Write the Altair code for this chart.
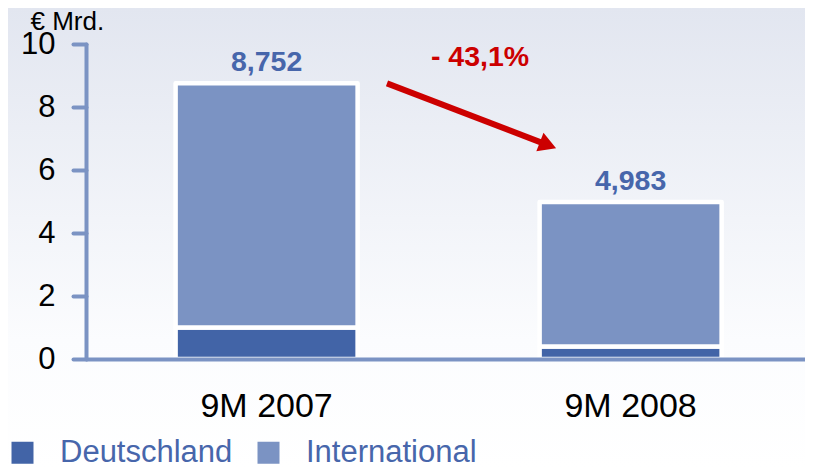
import altair as alt
import pandas as pd

# ---- data ----
categories = ["9M 2007", "9M 2008"]
series = ["Deutschland", "International"]
deutschland = [1.0, 0.4]
international = [7.752, 4.583]
totals = [8.752, 4.983]
total_labels = ["8,752", "4,983"]
change_label = "- 43,1%"
y_ticks = [0, 2, 4, 6, 8, 10]
unit_title = "€ Mrd."

# annotation arrow (y in data units)
arrow_y_start = 8.75
arrow_y_end = 6.79
change_label_y = 9.6

DARK = "#4264a7"
LIGHT = "#7b93c3"
AXIS = "#7b93c3"
LABEL_BLUE = "#4766ab"
RED = "#cc0000"

W, H = 719, 315
PAD = {"left": 78, "top": 36, "right": 0, "bottom": 109}

rows = []
for i, c in enumerate(categories):
    rows.append({"cat": c, "series": series[0], "value": deutschland[i], "order": 0})
    rows.append({"cat": c, "series": series[1], "value": international[i], "order": 1})
bars_df = pd.DataFrame(rows)
totals_df = pd.DataFrame({"cat": categories, "total": totals, "label": total_labels})
one = pd.DataFrame({"k": [0]})

xscale = alt.Scale(domain=categories, paddingInner=0.5, paddingOuter=0.2376, align=0.518)
yscale = alt.Scale(domain=[0, 10], nice=False, zero=True)

bg = alt.Chart(one).mark_rect(
    fill=alt.Gradient(
        gradient="linear", x1=0, y1=0, x2=0, y2=1,
        stops=[alt.GradientStop(color="#e2e6f0", offset=0),
               alt.GradientStop(color="#fbfcfe", offset=0.72),
               alt.GradientStop(color="#ffffff", offset=1)]),
).encode(
    x=alt.value(-PAD["left"]), x2=alt.value(W + PAD["right"]),
    y=alt.value(-PAD["top"]), y2=alt.value(H + PAD["bottom"]),
)

bars = alt.Chart(bars_df).mark_bar(stroke="white", strokeWidth=4.5, strokeJoin="round").encode(
    x=alt.X("cat:N", scale=xscale, sort=categories,
            axis=alt.Axis(title=None, labelAngle=0, ticks=False, labelFontSize=34,
                          labelColor="black", labelPadding=30, domainColor=AXIS,
                          domainWidth=4, zindex=1, labelFont="Liberation Sans")),
    y=alt.Y("value:Q", stack="zero", scale=yscale,
            axis=alt.Axis(title=unit_title, values=y_ticks, grid=False, labelFontSize=31,
                          labelColor="black", labelPadding=18, tickSize=13, tickWidth=4,
                          tickColor=AXIS, tickCap="round", domainColor=AXIS, domainWidth=4,
                          domainCap="round", zindex=1, titleAngle=0, titleX=-56, titleY=-23,
                          titleAlign="left", titleBaseline="middle", titleFontSize=26,
                          titleFontWeight="normal", titleColor="black",
                          labelFont="Liberation Sans", titleFont="Liberation Sans")),
    color=alt.Color("series:N", scale=alt.Scale(domain=series, range=[DARK, LIGHT]),
                    legend=alt.Legend(title=None, orient="none", legendX=-79, legendY=393,
                                      direction="horizontal", symbolType="square",
                                      symbolSize=484, symbolStrokeWidth=0, symbolOpacity=1,
                                      labelFontSize=31, labelColor=LABEL_BLUE, labelLimit=0,
                                      labelOffset=22, columnPadding=20, padding=0,
                                      zindex=1, labelFont="Liberation Sans")),
    order=alt.Order("order:Q"),
)

value_text = alt.Chart(totals_df).mark_text(
    fontSize=28.5, fontWeight="bold", color=LABEL_BLUE, baseline="middle", dy=-21,
    font="Liberation Sans",
).encode(
    x=alt.X("cat:N", scale=xscale, sort=categories),
    y=alt.Y("total:Q", scale=yscale, title=unit_title),
    text="label:N",
)

arrow = alt.Chart(one).mark_rule(color=RED, strokeWidth=6, strokeCap="butt").encode(
    x=alt.value(301), x2=alt.value(462),
    y=alt.datum(arrow_y_start), y2=alt.datum(arrow_y_end),
)
head = alt.Chart(one).mark_point(shape="triangle-right", filled=True, size=400, angle=21,
                                 color=RED, opacity=1, strokeWidth=0).encode(
    x=alt.value(462), y=alt.datum(arrow_y_end),
)
change = alt.Chart(one).mark_text(text=change_label, fontSize=28.5, fontWeight="bold",
                                  color=RED, baseline="middle", font="Liberation Sans").encode(
    x=alt.value(394), y=alt.datum(change_label_y),
)

chart = alt.layer(bg, bars, value_text, arrow, head, change).properties(
    width=W, height=H, autosize=alt.AutoSizeParams(type="none"), padding=PAD,
).configure_view(stroke=None).configure(font="Liberation Sans")

chart.save("out.html", embed_options={"renderer": "svg", "actions": False})
